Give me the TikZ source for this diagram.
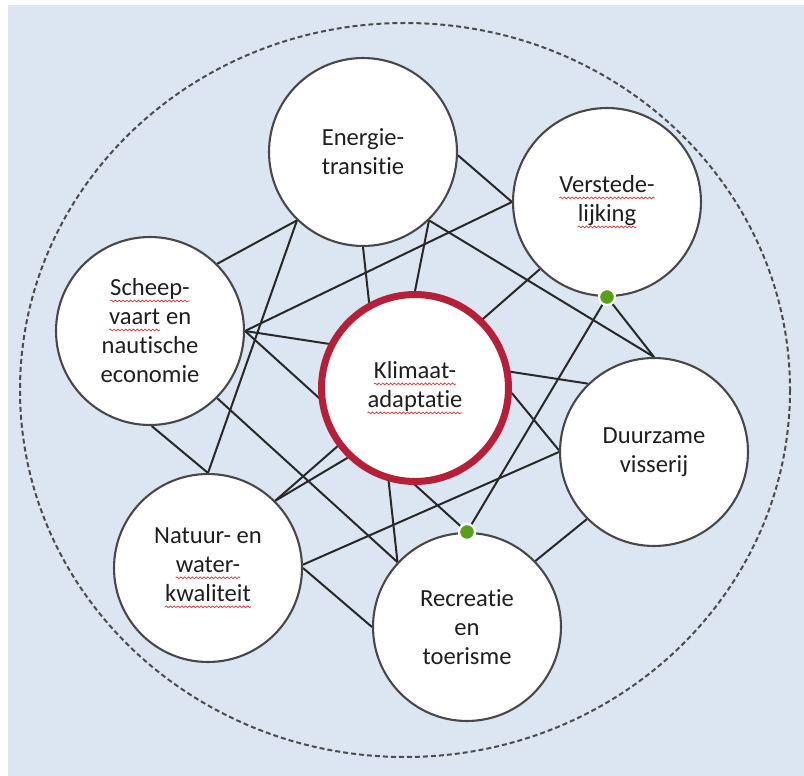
\documentclass[tikz,border=0pt]{standalone}
\usepackage{fontspec}
\setmainfont{Carlito}[Ligatures=NoCommon]
\usetikzlibrary{backgrounds,decorations.pathmorphing}
\definecolor{bgblue}{RGB}{220,230,242}
\definecolor{ringred}{RGB}{181,31,56}
\definecolor{dotgreen}{RGB}{88,160,24}
\definecolor{linegray}{RGB}{40,40,40}
\definecolor{spellred}{RGB}{226,64,64}
\newcommand{\spell}[1]{\tikz[baseline=(w.base)]{\node[shape=rectangle,draw=none,fill=none,inner sep=0pt,outer sep=0pt,minimum size=0pt] (w) {#1};
    \draw[spellred,line width=0.45pt,fill=none,decorate,decoration={snake,amplitude=0.5pt,segment length=2.2pt}] ([yshift=-0.1cm]w.base west) -- ([yshift=-0.1cm]w.base east);}}
\begin{document}
\begin{tikzpicture}[x=0.02cm,y=-0.02cm,
    topic/.style={circle,draw=linegray!85,line width=0.042cm,fill=white,minimum size=3.76cm,inner sep=0pt,align=center,text=black!88,font=\fontsize{14}{16.5}\selectfont},
    core/.style={topic,draw=ringred,line width=0.14cm,minimum size=3.74cm},
    link/.style={draw=linegray,line width=0.04cm},
    hub/.style={fill=dotgreen,draw=white,line width=0.045cm}]
      \useasboundingbox (0,0) rectangle (804,776);
      \node[topic] (e) at (363,152) {Energie-\\transitie};
      \node[topic] (v) at (607,202) {\spell{Verstede-}\\\spell{lijking}};
      \node[topic] (s) at (150,331) {\spell{Scheep-}\\\spell{vaart} en\\nautische\\economie};
      \node[core] (k) at (415,388) {\spell{Klimaat-}\\\spell{adaptatie}};
      \node[topic] (d) at (654,452) {Duurzame\\visserij};
      \node[topic] (n) at (208,568) {Natuur- en\\\spell{water-}\\\spell{kwaliteit}};
      \node[topic] (r) at (467,627) {Recreatie\\en\\toerisme};
      \begin{scope}[on background layer]
        \fill[white] (0,0) rectangle (804,776);
        \fill[bgblue] (8,5) rectangle (804,776);
        \draw[black!70,line width=0.04cm,dash pattern=on 0.1cm off 0.06cm] (405,390) ellipse (385 and 367);
        \draw[link] (s.45) -- (e.226);
        \draw[link] (e.226) -- (n.90);
        \draw[link] (s.0) -- (v.180);
        \draw[link] (s.0) -- (d.134);
        \draw[link] (s.0) -- (r.90);
        \draw[link] (e.-2) -- (v.180);
        \draw[link] (e.-46) -- (d.90);
        \draw[link] (e.-46) -- (k.90);
        \draw[link] (e.-90) -- (r.137);
        \draw[link] (v.225) -- (n.45);
        \draw[link] (v.-90) -- (r.90);
        \draw[link] (v.-90) -- (d.90);
        \draw[link] (k.-3) -- (d.179);
        \draw[link] (n.45) -- (k.226);
        \draw[link] (n.2) -- (d.180);
        \draw[link] (n.0) -- (r.180);
        \draw[link] (s.-89) -- (n.90);
        \draw[link] (s.-45) -- (r.137);
        \draw[link] (d.225) -- (r.44);
      \end{scope}
      \filldraw[hub] (v.-90) circle (0.16cm);
      \filldraw[hub] (r.90) circle (0.16cm);
    \end{tikzpicture}
\end{document}
